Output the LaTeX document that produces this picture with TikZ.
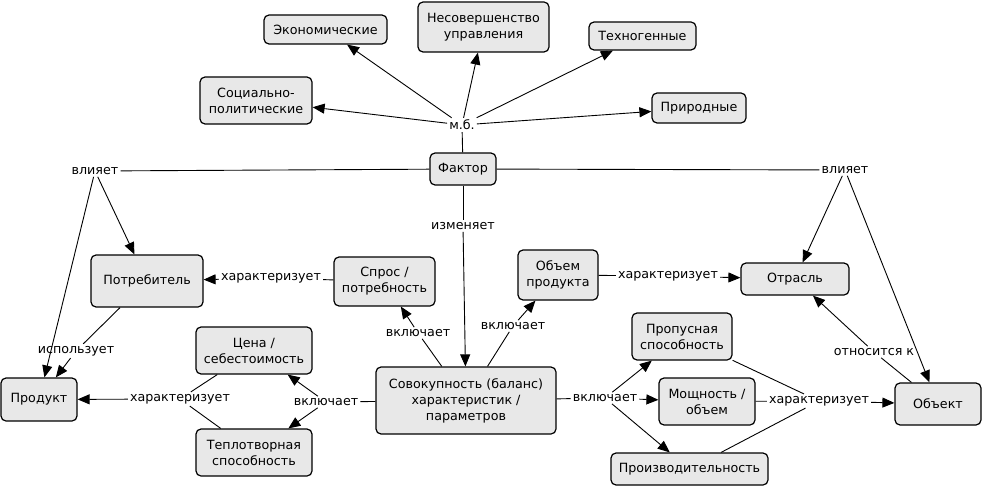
\documentclass[tikz,border=0pt]{standalone}
\usepackage{fontspec}
\setmainfont{DejaVu Sans}
\usetikzlibrary{arrows.meta,positioning}
\definecolor{cfill}{RGB}{232,232,232}
\tikzstyle{concept} = [rectangle, draw, fill=cfill, rounded corners=5pt, align=center, line width=1.2pt, inner sep=2pt]
\tikzstyle{link} = [inner sep=2pt]
\tikzstyle{line} = [draw, line width=0.9pt]
\tikzstyle{arrow} = [draw, line width=0.9pt, -{Triangle[length=12pt,width=10pt]}]
\tikzset{wh/.style 2 args={minimum width=#1pt, minimum height=#2pt}}

\begin{document}
\begin{tikzpicture}[x=1pt, y=-1pt, font=\fontsize{12.7}{16}\selectfont]
    \useasboundingbox (0,0) rectangle (983,487);

    \node [concept, wh={123}{29}] (econ) at (325.5,29.5) {Экономические};
    \node [concept, wh={131}{50}] (nesov) at (483.5,27) {Несовершенство\\управления};
    \node [concept, wh={107}{28}] (tech) at (642.5,36) {Техногенные};
    \node [concept, wh={112}{47}] (soc) at (256,100.5) {Социально-\\политические};
    \node [concept, wh={94}{30}] (prir) at (699,108) {Природные};
    \node [link] (mb) at (462,125) {м.б.};
    \node [concept, wh={66}{32}] (factor) at (463,169) {Фактор};
    \node [link] (vl1) at (95,171) {влияет};
    \node [link] (vl2) at (845,170) {влияет};
    \node [link] (izm) at (463,226) {изменяет};

    \node [concept, wh={112}{52}] (potr) at (147,281) {Потребитель};
    \node [link] (char1) at (271,278) {характеризует};
    \node [concept, wh={101}{49}] (spros) at (384.5,281.5) {Спрос /\\потребность};
    \node [concept, wh={80}{50}] (obem) at (558,275) {Объем\\продукта};
    \node [link] (char2) at (668,276) {характеризует};
    \node [concept, wh={108}{32}] (otr) at (795,279) {Отрасль};

    \node [link] (vkl1) at (418,333) {включает};
    \node [link] (vkl2) at (513,326) {включает};
    \node [link] (isp) at (76,351) {использует};
    \node [concept, wh={116}{47}] (cena) at (254,350.5) {Цена /\\себестоимость};
    \node [concept, wh={100}{47}] (prop) at (682,336.5) {Пропусная\\способность};
    \node [link] (otn) at (874,352) {относится к};

    \node [concept, wh={76}{43}] (prod) at (39,399.5) {Продукт};
    \node [link] (char3) at (180,399) {характеризует};
    \node [link] (vkl3) at (326,402) {включает};
    \node [concept, wh={180}{67}] (sov) at (466,400.5) {Совокупность (баланс)\\характеристик /\\параметров};
    \node [link] (vkl4) at (605,398) {включает};
    \node [concept, wh={96}{47}] (mosh) at (707,401.5) {Мощность /\\объем};
    \node [link] (char4) at (819,401) {характеризует};
    \node [concept, wh={86}{42}] (obj) at (938,404) {Объект};
    \node [concept, wh={116}{47}] (teplo) at (254,452.5) {Теплотворная\\способность};
    \node [concept, wh={157}{32}] (proizv) at (689.5,469) {Производительность};

    \path [line] (factor) -- (mb);
    \path [arrow] (mb) -- (econ);
    \path [arrow] (mb) -- (nesov);
    \path [arrow] (mb) -- (tech);
    \path [arrow] (mb) -- (soc);
    \path [arrow] (mb) -- (prir);

    \path [line] (factor) -- (vl1);
    \path [arrow] (vl1) -- (potr);
    \path [arrow] (vl1) -- (prod);
    \path [line] (factor) -- (vl2);
    \path [arrow] (vl2) -- (otr);
    \path [arrow] (vl2) -- (obj);
    \path [line] (factor) -- (izm);
    \path [arrow] (izm) -- (sov);

    \path [line] (potr) -- (isp);
    \path [arrow] (isp) -- (prod);
    \path [line] (spros) -- (char1);
    \path [arrow] (char1) -- (potr);
    \path [line] (obem) -- (char2);
    \path [arrow] (char2) -- (otr);
    \path [line] (obj) -- (otn);
    \path [arrow] (otn) -- (otr);

    \path [line] (sov) -- (vkl1);
    \path [arrow] (vkl1) -- (spros);
    \path [line] (sov) -- (vkl2);
    \path [arrow] (vkl2) -- (obem);
    \path [line] (sov) -- (vkl3);
    \path [arrow] (vkl3) -- (cena);
    \path [arrow] (vkl3) -- (teplo);
    \path [line] (sov) -- (vkl4);
    \path [arrow] (vkl4) -- (prop);
    \path [arrow] (vkl4) -- (mosh);
    \path [arrow] (vkl4) -- (proizv);

    \path [line] (cena) -- (char3);
    \path [line] (teplo) -- (char3);
    \path [arrow] (char3) -- (prod);
    \path [line] (prop) -- (char4);
    \path [line] (mosh) -- (char4);
    \path [line] (proizv) -- (char4);
    \path [arrow] (char4) -- (obj);
\end{tikzpicture}
\end{document}
